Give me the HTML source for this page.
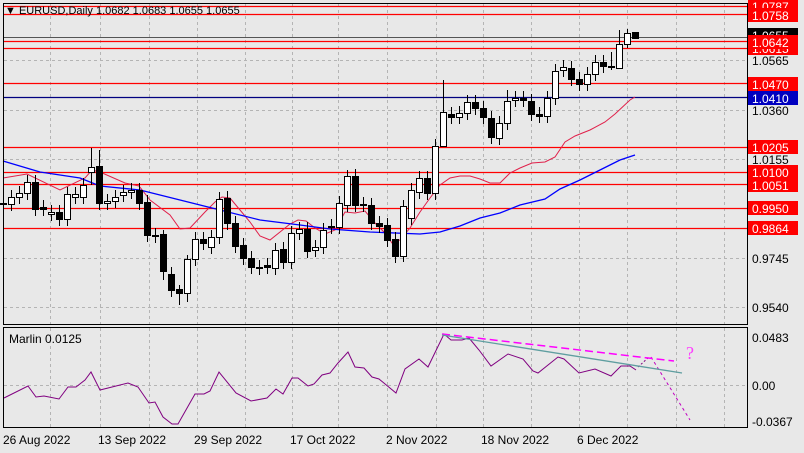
<!DOCTYPE html>
<html><head><meta charset="utf-8"><style>
html,body{margin:0;padding:0;background:#e8e8e8;}
svg{display:block;font-family:"Liberation Sans",sans-serif;}
</style></head><body>
<svg id="s" width="804" height="453" xmlns="http://www.w3.org/2000/svg">
<rect x="0" y="0" width="804" height="453" fill="#e8e8e8"/>
<g id="grid"></g>
<g id="hl"></g>
<g id="ma"></g>
<g id="cd"></g>
<g id="mar"></g>
<rect x="3.5" y="3.5" width="744" height="321" fill="none" stroke="#000"/>
<rect x="3.5" y="327.5" width="744" height="100" fill="none" stroke="#000"/>
<text x="5" y="14" font-size="11">▼ EURUSD,Daily 1.0682 1.0683 1.0655 1.0655</text>
<text x="9" y="343" font-size="12">Marlin 0.0125</text>
<g id="lab"></g>
<g font-size="12" fill="#000">
<text x="3" y="444">26 Aug 2022</text>
<text x="98" y="444">13 Sep 2022</text>
<text x="194" y="444">29 Sep 2022</text>
<text x="290" y="444">17 Oct 2022</text>
<text x="386" y="444">2 Nov 2022</text>
<text x="481" y="444">18 Nov 2022</text>
<text x="577" y="444">6 Dec 2022</text>
</g>
</svg>
<script>
var NS="http://www.w3.org/2000/svg";
function el(p,t,a,txt){var e=document.createElementNS(NS,t);for(var k in a)e.setAttribute(k,a[k]);if(txt!==undefined)e.textContent=txt;document.getElementById(p).appendChild(e);return e;}
// grid
var gx=[50,100,149,197,245,292,338,387,436,483,531,579,627,676,724];
gx.forEach(function(x){el('grid','line',{x1:x+.5,y1:4,x2:x+.5,y2:324,stroke:'#b4b4b4','stroke-dasharray':'3,3'});el('grid','line',{x1:x+.5,y1:328,x2:x+.5,y2:427,stroke:'#b4b4b4','stroke-dasharray':'3,3'});});
[60,110,159,258,307].forEach(function(y){el('grid','line',{x1:4,y1:y+.5,x2:747,y2:y+.5,stroke:'#b4b4b4','stroke-dasharray':'3,3'});});
el('grid','line',{x1:4,y1:385.5,x2:747,y2:385.5,stroke:'#b4b4b4','stroke-dasharray':'3,3'});
// horizontal levels
[6,14,41,48,83,147,172,184,208,228].forEach(function(y){el('hl','line',{x1:4,y1:y+.5,x2:747,y2:y+.5,stroke:'#f00','stroke-width':1.3});});
el('hl','line',{x1:4,y1:97.5,x2:747,y2:97.5,stroke:'#000080','stroke-width':1.2});
el('hl','line',{x1:4,y1:37.5,x2:747,y2:37.5,stroke:'#555','stroke-width':1});
// MAs
var red=[[3,178],[27,174],[60,190],[85,178],[92,170],[100,172],[125,183],[139,186],[150,200],[170,215],[180,229],[190,228],[205,212],[215,202],[222,197],[230,198],[240,210],[250,222],[260,236],[270,240],[290,224],[298,220],[306,221],[315,228],[325,234],[335,230],[345,212],[355,213],[365,211],[375,223],[385,233],[392,243],[400,240],[410,228],[420,212],[430,198],[440,185],[450,178],[460,176],[470,176],[480,179],[490,183],[500,183],[510,173],[520,168],[532,163],[545,162],[555,157],[565,142],[575,136],[590,130],[605,122],[615,114],[630,100],[635,97]];
var blue=[[3,161],[40,172],[80,178],[100,186],[140,190],[180,200],[220,210],[260,220],[300,225],[330,229],[370,232],[420,234],[440,232],[460,226],[480,218],[500,213],[520,205],[545,199],[560,189],[580,180],[600,170],[620,160],[635,155]];
function pts(a){return a.map(function(p){return p.join(',')}).join(' ');}
el('ma','polyline',{points:pts(red),fill:'none',stroke:'#e0204a','stroke-width':1});
el('ma','polyline',{points:pts(blue),fill:'none',stroke:'#0000ff','stroke-width':1.3});
// candles: [top,bottom,white]
var C=[[203,204,0],[197,204,1],[193,197,1],[182,193,1],[182,209,0],[207,209,0],[212,214,1],[212,219,0],[194,219,1],[194,197,1],[185,197,1],[167,172,1],[166,203,0],[201,203,1],[197,201,1],[192,195,1],[190,192,1],[190,203,0],[202,235,0],[235,236,0],[234,271,0],[274,290,0],[289,293,0],[259,293,1],[239,259,1],[239,243,0],[237,247,1],[199,237,1],[198,223,0],[223,246,0],[245,258,0],[258,267,0],[267,268,0],
[265,267,0],[250,268,1],[249,262,0],[233,262,1],[229,233,1],[229,251,0],[247,250,1],[230,247,1],[226,227,0],[203,227,1],[176,205,1],[176,205,0],[204,205,0],[205,223,0],[223,226,0],[225,240,0],[239,256,0],[206,256,1],[190,218,1],[178,192,1],[178,193,0],[146,193,1],[112,146,1],[114,117,0],[113,117,1],[102,113,1],[102,108,0],[108,117,0],[118,137,0],[123,138,1],[101,123,1],[98,100,1],[98,100,0],[101,114,0],[114,116,0],[98,116,1],[71,98,1],[67,70,1],[68,79,0],[79,84,0],[74,84,1],[62,74,1],[62,66,0],[66,67,0],[44,68,1],[33,44,1],[32,38,0]];
var wick={11:[148,185],12:[150,210],55:[80,122],77:[30,68],78:[29,48],20:[230,280],22:[285,305],23:[255,302],63:[90,130],76:[52,70],43:[170,212],50:[200,262]};
for(var i=0;i<C.length;i++){var x=3+8*i,c=C[i];var hi=c[0]-7,lo=c[1]+7;if(wick[i]){hi=wick[i][0];lo=wick[i][1];}
if(i==79){lo=c[1];hi=c[0];}
el('cd','line',{x1:x+.5,y1:hi,x2:x+.5,y2:lo,stroke:'#000','stroke-width':1});
var h=Math.max(1,c[1]-c[0]);
el('cd','rect',{x:x-2.5,y:c[0]+.5,width:6,height:h,fill:c[2]?'#fff':'#000',stroke:'#000','stroke-width':1});}
// Marlin
var M=[[4,398],[28,386],[36,397],[44,396],[59,399],[68,387],[76,387],[85,380],[91,372],[100,390],[128,383],[138,387],[149,403],[155,402],[163,417],[172,424],[178,424],[195,394],[204,394],[210,391],[219,372],[236,393],[251,401],[267,398],[276,389],[283,394],[292,378],[298,378],[308,386],[314,384],[322,375],[330,373],[338,363],[348,352],[355,367],[364,368],[372,377],[379,379],[396,393],[405,369],[419,359],[428,367],[444,334],[451,340],[462,340],[469,338],[479,350],[491,366],[508,354],[523,359],[533,371],[538,373],[558,357],[564,359],[579,373],[595,369],[611,376],[621,366],[630,366],[636,370]];
el('mar','polyline',{points:pts(M),fill:'none',stroke:'#800080','stroke-width':1});
el('mar','polyline',{points:'638,367 649,357',fill:'none',stroke:'#800080','stroke-width':1,'stroke-dasharray':'2,2'});
el('mar','polyline',{points:'651,357 690,420',fill:'none',stroke:'#c000c0','stroke-width':1,'stroke-dasharray':'3,3'});
el('mar','line',{x1:442,y1:334,x2:674,y2:361,stroke:'#ff00ff','stroke-width':1.5,'stroke-dasharray':'8,4'});
el('mar','line',{x1:442,y1:335,x2:682,y2:373,stroke:'#5f9ea0','stroke-width':1.3});
el('mar','text',{x:686,y:359,'font-size':18,fill:'#ff40ff','font-family':'Liberation Serif,serif'},'?');
// labels
function lab(y,t,bg,fg){if(bg)el('lab','rect',{x:748,y:y-7,width:50,height:14,fill:bg});el('lab','text',{x:752,y:y+5,'font-size':12,fill:fg},t);}
lab(60,'1.0565',null,'#000');lab(110,'1.0360',null,'#000');lab(159,'1.0155',null,'#000');lab(258,'0.9745',null,'#000');lab(307,'0.9540',null,'#000');
lab(35,'1.0655','#000','#fff');
lab(6,'1.0787','#f00','#fff');lab(15,'1.0758','#f00','#fff');lab(48,'1.0615','#f00','#fff');lab(42,'1.0642','#f00','#fff');
lab(84,'1.0470','#f00','#fff');lab(98,'1.0410','#0000c0','#fff');lab(147,'1.0205','#f00','#fff');
lab(172,'1.0100','#f00','#fff');lab(185,'1.0051','#f00','#fff');lab(208,'0.9950','#f00','#fff');lab(228,'0.9864','#f00','#fff');
lab(337,'0.0483',null,'#000');lab(385,'0.00',null,'#000');lab(421,'-0.0367',null,'#000');
</script>
</body></html>
